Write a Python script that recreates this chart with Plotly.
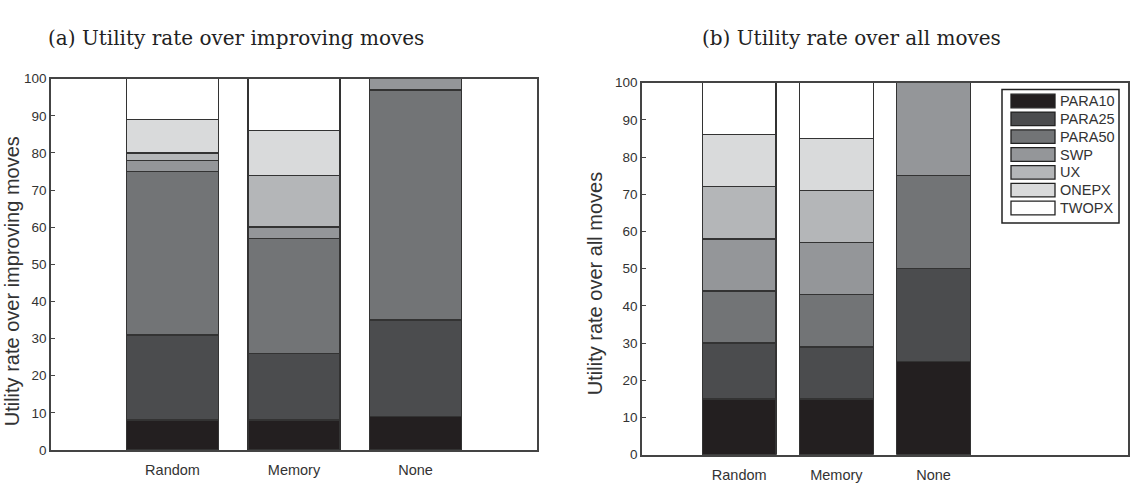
import plotly.graph_objects as go

W, H = 1135, 486

categories = ["Random", "Memory", "None"]
series_names = ["PARA10", "PARA25", "PARA50", "SWP", "UX", "ONEPX", "TWOPX"]
colors = ["#231f20", "#4b4c4e", "#727476", "#949699", "#b4b6b8", "#d9dadb", "#ffffff"]

# (a) utility rate over improving moves
improving = {
    "PARA10": [8, 8, 9],
    "PARA25": [23, 18, 26],
    "PARA50": [44, 31, 62],
    "SWP":    [3, 3, 3],
    "UX":     [2, 14, 0],
    "ONEPX":  [9, 12, 0],
    "TWOPX":  [11, 14, 0],
}
# (b) utility rate over all moves
allmoves = {
    "PARA10": [15, 15, 25],
    "PARA25": [15, 14, 25],
    "PARA50": [14, 14, 25],
    "SWP":    [14, 14, 25],
    "UX":     [14, 14, 0],
    "ONEPX":  [14, 14, 0],
    "TWOPX":  [14, 15, 0],
}

y_ticks = list(range(0, 101, 10))

def px(x):
    return x / W

def py(y):
    return 1 - y / H

fig = go.Figure()
for name, col in zip(series_names, colors):
    fig.add_trace(go.Bar(x=categories, y=improving[name], name=name, marker_color=col,
                         marker_line=dict(color="#333333", width=1.4), width=0.76,
                         xaxis="x", yaxis="y", showlegend=False))
    fig.add_trace(go.Bar(x=categories, y=allmoves[name], name=name, marker_color=col,
                         marker_line=dict(color="#333333", width=1.4), width=0.76,
                         xaxis="x2", yaxis="y2", showlegend=False))

line_common = dict(showline=True, linecolor="#444444", linewidth=1.5, mirror=True,
                   showgrid=False, zeroline=False)
ytick_font = dict(family="Liberation Sans, Arial", size=13.5, color="#333333")
xtick_font = dict(family="Liberation Sans, Arial", size=14.5, color="#333333")

fig.update_layout(
    width=W, height=H,
    margin=dict(l=0, r=0, t=0, b=0),
    plot_bgcolor="white", paper_bgcolor="white",
    barmode="stack",
    showlegend=False,
    xaxis=dict(domain=[px(51), px(537)], anchor="y", type="category", range=[-1, 3],
               ticks="", tickfont=xtick_font, ticklabelstandoff=6, **line_common),
    yaxis=dict(domain=[py(457), py(74)], anchor="x", range=[0, 100], tickvals=y_ticks,
               ticks="inside", ticklen=4, tickcolor="#444444", tickfont=ytick_font, **line_common),
    xaxis2=dict(domain=[px(642), px(1128)], anchor="y2", type="category", range=[-1, 4],
                ticks="", tickfont=xtick_font, ticklabelstandoff=6, **line_common),
    yaxis2=dict(domain=[py(462), py(78)], anchor="x2", range=[0, 100], tickvals=y_ticks,
                ticks="inside", ticklen=4, tickcolor="#444444", tickfont=ytick_font, **line_common),
)

annotations = [
    dict(text="(a) Utility rate over improving moves", x=px(236), y=py(32), xref="paper", yref="paper",
         showarrow=False, xanchor="center", yanchor="middle",
         font=dict(family="DejaVu Serif", size=20, color="#222222")),
    dict(text="(b) Utility rate over all moves", x=px(851), y=py(32), xref="paper", yref="paper",
         showarrow=False, xanchor="center", yanchor="middle",
         font=dict(family="DejaVu Serif", size=20, color="#222222")),
    dict(text="Utility rate over improving moves", x=px(12), y=py(283), xref="paper", yref="paper",
         showarrow=False, xanchor="center", yanchor="middle", textangle=-90,
         font=dict(family="Liberation Sans, Arial", size=20, color="#333333")),
    dict(text="Utility rate over all moves", x=px(595), y=py(286), xref="paper", yref="paper",
         showarrow=False, xanchor="center", yanchor="middle", textangle=-90,
         font=dict(family="Liberation Sans, Arial", size=20, color="#333333")),
]

# custom legend (box + swatches + labels)
shapes = [dict(type="rect", xref="paper", yref="paper", x0=px(1002), x1=px(1119), y0=py(223), y1=py(85),
               line=dict(color="#222222", width=1.5), fillcolor="white", layer="above")]
row0, step = 97, 18.4
for i, (name, col) in enumerate(zip(series_names, colors)):
    yc = row0 + i * step
    shapes.append(dict(type="rect", xref="paper", yref="paper", x0=px(1011), x1=px(1055),
                       y0=py(yc + 7), y1=py(yc - 7), line=dict(color="#222222", width=1.3),
                       fillcolor=col, layer="above"))
    annotations.append(dict(text=name, x=px(1058), y=py(yc), xref="paper", yref="paper",
                            showarrow=False, xanchor="left", yanchor="middle",
                            font=dict(family="Liberation Sans, Arial", size=14.5, color="#333333")))

fig.update_layout(shapes=shapes, annotations=annotations)
fig.write_html("out.html")
